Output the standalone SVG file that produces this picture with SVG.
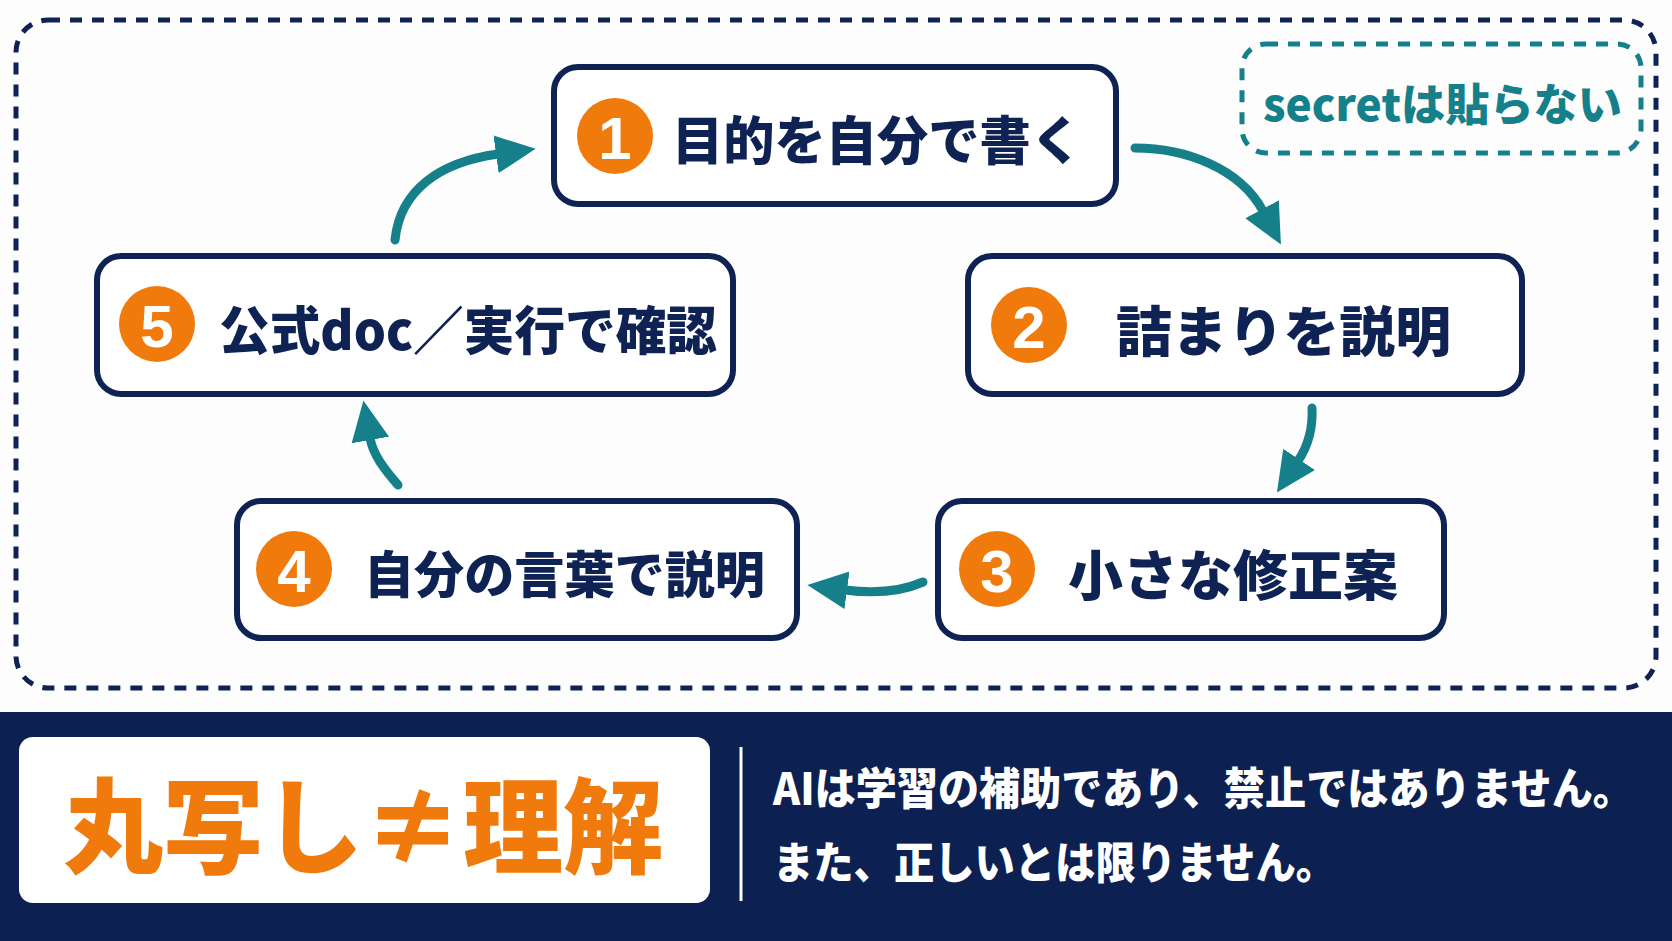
<svg xmlns="http://www.w3.org/2000/svg" width="1672" height="941" viewBox="0 0 1672 941">
<defs>
<style>
.box{fill:#ffffff;stroke:#0e2354;stroke-width:6}
.num{fill:#f07a0c}
.numt{fill:#ffffff;font-family:"Liberation Sans","Noto Sans",sans-serif;font-weight:700;font-size:60px;text-anchor:middle;dominant-baseline:central}
.lbl{fill:#0e2354;font-family:"Noto Sans CJK JP","Noto Sans",sans-serif;font-weight:900;dominant-baseline:central}
.arr{fill:none;stroke:#16808a;stroke-width:9;stroke-linecap:round;marker-end:url(#ah)}
.foot{fill:#ffffff;font-family:"Noto Sans CJK JP","Noto Sans",sans-serif;font-weight:900;font-size:44px;dominant-baseline:central}
</style>
<marker id="ah" markerUnits="userSpaceOnUse" viewBox="0 -20 42 40" refX="2" refY="0" markerWidth="42" markerHeight="40" orient="auto">
<path d="M0,-19 L40,0 L0,19 z" fill="#16808a"/>
</marker>
</defs>
<rect width="1672" height="941" fill="#fdfdfe"/>
<rect id="frame" x="16" y="20" width="1640" height="668" rx="32" fill="none" stroke="#0e2354" stroke-width="5" stroke-dasharray="12 10"/>

<g id="secret">
<rect x="1242" y="44" width="399" height="109" rx="24" fill="none" stroke="#16808a" stroke-width="5" stroke-dasharray="12 10"/>
<text x="1263" y="102" fill="#16808a" font-family="'Noto Sans CJK JP','Noto Sans',sans-serif" font-weight="900" font-size="44" dominant-baseline="central" textLength="359" lengthAdjust="spacingAndGlyphs">secretは貼らない</text>
</g>

<g id="connectors">
<path class="arr" d="M395,240 C400,190 440,162 498,154"/>
<path class="arr" d="M1135,148 C1185,148 1240,168 1263,211"/>
<path class="arr" d="M1312,408 C1313,428 1308,446 1298,461"/>
<path class="arr" d="M923,582 C900,592 875,594 845,590"/>
<path class="arr" d="M398,485 C385,470 373,455 370,438"/>
</g>

<g id="node1">
<rect class="box" x="554" y="67" width="562" height="137" rx="24"/>
<circle class="num" cx="615" cy="136" r="38"/>
<text class="numt" x="615" y="138">1</text>
<text class="lbl" x="672" y="137" font-size="52" textLength="410" lengthAdjust="spacingAndGlyphs">目的を自分で書く</text>
</g>

<g id="node2">
<rect class="box" x="968" y="256" width="554" height="138" rx="24"/>
<circle class="num" cx="1029" cy="325" r="38"/>
<text class="numt" x="1029" y="327">2</text>
<text class="lbl" x="1116" y="328" font-size="54" textLength="335" lengthAdjust="spacingAndGlyphs">詰まりを説明</text>
</g>

<g id="node3">
<rect class="box" x="938" y="501" width="506" height="137" rx="24"/>
<circle class="num" cx="997" cy="569" r="38"/>
<text class="numt" x="997" y="571">3</text>
<text class="lbl" x="1068" y="572" font-size="54" textLength="330" lengthAdjust="spacingAndGlyphs">小さな修正案</text>
</g>

<g id="node4">
<rect class="box" x="237" y="501" width="560" height="137" rx="24"/>
<circle class="num" cx="294" cy="569" r="38"/>
<text class="numt" x="294" y="571">4</text>
<text class="lbl" x="364" y="571" font-size="50" textLength="401" lengthAdjust="spacingAndGlyphs">自分の言葉で説明</text>
</g>

<g id="node5">
<rect class="box" x="97" y="256" width="636" height="138" rx="24"/>
<circle class="num" cx="157" cy="324" r="38"/>
<text class="numt" x="157" y="326">5</text>
<text class="lbl" x="219" y="327" font-size="52" textLength="498" lengthAdjust="spacingAndGlyphs">公式doc／実行で確認</text>
</g>

<g id="footer">
<rect x="0" y="712" width="1672" height="229" fill="#0c2152"/>
<rect x="19" y="737" width="691" height="166" rx="14" fill="#ffffff"/>
<text x="63" y="820" fill="#f07a0c" font-family="'Noto Sans CJK JP','Noto Sans',sans-serif" font-weight="900" font-size="104" dominant-baseline="central" textLength="600" lengthAdjust="spacingAndGlyphs">丸写し≠理解</text>
<line x1="741" y1="747" x2="741" y2="901" stroke="#ffffff" stroke-width="3"/>
<text class="foot" x="773" y="786" textLength="861" lengthAdjust="spacingAndGlyphs">AIは学習の補助であり、禁止ではありません。</text>
<text class="foot" x="773" y="860" textLength="563" lengthAdjust="spacingAndGlyphs">また、正しいとは限りません。</text>
</g>
</svg>
